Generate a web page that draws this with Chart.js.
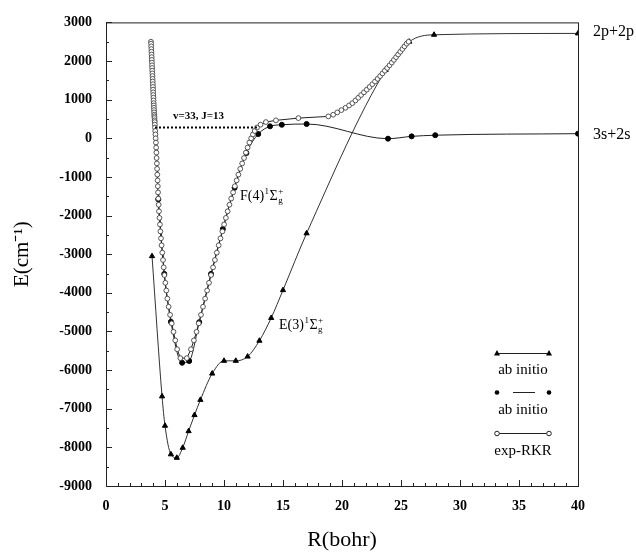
<!DOCTYPE html>
<html>
<head>
<meta charset="utf-8">
<script src="https://cdn.jsdelivr.net/npm/chart.js@4.4.1/dist/chart.umd.min.js"></script>
<style>
  html, body { margin: 0; padding: 0; background: #fff; }
  #wrap { width: 636px; height: 552px; }
</style>
</head>
<body>
<div id="wrap"><canvas id="pec" width="636" height="552"></canvas></div>
<script>
// axis ticks
const xTickValues = [0, 5, 10, 15, 20, 25, 30, 35, 40];
const yTickValues = [-9000, -8000, -7000, -6000, -5000, -4000, -3000, -2000, -1000, 0, 1000, 2000, 3000];

// E(3) 1Sigma_g+ ab initio (triangles)
const e3R = [3.9, 4.75, 5.0, 5.5, 6.0, 6.5, 7.0, 7.5, 8.0, 9.0, 10.0, 11.0, 12.0, 13.0, 14.0, 15.0, 17.0, 23.7, 25.7, 27.8, 40];
const e3E = [-3050, -6680, -7440, -8180, -8270, -8010, -7580, -7165, -6770, -6090, -5760, -5760, -5650, -5240, -4650, -3930, -2460, 1770, 2500, 2680, 2715];

// F(4) 1Sigma_g+ ab initio (filled circles)
const f4R = [4.43, 4.94, 5.5, 6.45, 7.05, 7.9, 8.9, 9.9, 10.9, 11.9, 12.9, 13.9, 14.9, 17.0, 23.9, 25.9, 27.9, 40];
const f4E = [-1580, -3510, -4750, -5810, -5765, -4760, -3510, -2350, -1280, -380, 110, 310, 350, 370, -10, 50, 80, 120];

// exp-RKR turning points: level energies with inner and outer R
const rkrE = [
  -5690, -5460, -5230, -5010, -4790, -4570, -4360, -4150, -3940, -3740,
  -3540, -3340, -3150, -2960, -2770, -2590, -2410, -2230, -2060, -1890,
  -1720, -1560, -1400, -1240, -1090, -940, -790, -650, -510, -370,
  -240, -110, 0, 100, 190, 280, 353, 420, 464, 523,
  567, 610, 670, 730, 790, 850, 910, 980, 1050, 1120,
  1190, 1260, 1330, 1400, 1470, 1540, 1610, 1680, 1750, 1820,
  1890, 1960, 2030, 2100, 2170, 2240, 2310, 2380, 2450, 2500
];
const rkrInnerR = [
  6.3, 6.03, 5.87, 5.72, 5.57, 5.43, 5.31, 5.2, 5.11, 5.03,
  4.95, 4.89, 4.83, 4.77, 4.71, 4.66, 4.61, 4.57, 4.53, 4.49,
  4.46, 4.43, 4.41, 4.39, 4.37, 4.35, 4.33, 4.31, 4.29, 4.27,
  4.25, 4.23, 4.21, 4.19, 4.17, 4.15, 4.14, 4.13, 4.12, 4.11,
  4.1, 4.09, 4.08, 4.07, 4.06, 4.05, 4.04, 4.03, 4.02, 4.01,
  4.0, 3.99, 3.98, 3.97, 3.96, 3.95, 3.94, 3.93, 3.92, 3.91,
  3.9, 3.89, 3.88, 3.87, 3.86, 3.85, 3.84, 3.83, 3.82, 3.81
];
const rkrOuterR = [
  6.85, 7.2, 7.45, 7.67, 7.86, 8.05, 8.22, 8.4, 8.57, 8.73,
  8.9, 9.07, 9.23, 9.39, 9.55, 9.7, 9.86, 10.01, 10.16, 10.31,
  10.46, 10.61, 10.77, 10.92, 11.07, 11.22, 11.38, 11.54, 11.7, 11.86,
  12.0, 12.15, 12.3, 12.45, 12.6, 12.8, 13.1, 13.55, 14.4, 16.3,
  18.84, 19.25, 19.6, 19.95, 20.3, 20.6, 20.88, 21.14, 21.38, 21.62,
  21.86, 22.1, 22.34, 22.57, 22.8, 23.02, 23.23, 23.43, 23.63, 23.83,
  24.03, 24.22, 24.4, 24.58, 24.76, 24.94, 25.12, 25.3, 25.48, 25.65
];

// v=33, J=13 level
const levelR = [4.15, 12.8];
const levelE = [280, 280];

const SERIF = '"Liberation Serif", "Times New Roman", serif';

const toPts = (xs, ys) => xs.map((x, i) => ({ x: x, y: ys[i] }));
const rkrInner = toPts(rkrInnerR, rkrE).reverse();
const rkrOuter = toPts(rkrOuterR, rkrE);

function tri(ctx, x, y, r) {
  ctx.beginPath();
  ctx.moveTo(x, y - r);
  ctx.lineTo(x + r, y + r * 0.8);
  ctx.lineTo(x - r, y + r * 0.8);
  ctx.closePath();
  ctx.fill();
}

function dot(ctx, x, y, r, open) {
  ctx.beginPath();
  ctx.arc(x, y, r, 0, Math.PI * 2);
  if (open) {
    ctx.fillStyle = '#fff';
    ctx.fill();
    ctx.stroke();
    ctx.fillStyle = '#000';
  } else {
    ctx.fill();
  }
}

function drawTerm(ctx, head, x, y) {
  ctx.textAlign = 'left';
  ctx.textBaseline = 'alphabetic';
  ctx.font = '14px ' + SERIF;
  ctx.fillText(head, x, y);
  let cx = x + ctx.measureText(head).width + 0.5;
  ctx.font = '9px ' + SERIF;
  ctx.fillText('1', cx, y - 6);
  cx += ctx.measureText('1').width + 0.5;
  ctx.font = '14px ' + SERIF;
  ctx.fillText('\u03A3', cx, y);
  cx += ctx.measureText('\u03A3').width + 0.5;
  ctx.font = '9px ' + SERIF;
  ctx.fillText('+', cx, y - 6);
  ctx.fillText('g', cx, y + 3);
}

const decor = {
  id: 'decor',
  beforeDatasetsDraw(chart) {
    const { ctx, chartArea: a, scales: { x, y } } = chart;
    ctx.save();
    ctx.strokeStyle = '#222';
    ctx.lineWidth = 1;
    ctx.strokeRect(a.left + 0.5, a.top + 0.5, a.right - a.left, a.bottom - a.top);
    ctx.beginPath();
    for (let v = 0; v <= 40; v++) {
      const px = Math.round(x.getPixelForValue(v)) + 0.5;
      const len = v % 5 === 0 ? 6 : 3;
      ctx.moveTo(px, a.bottom);
      ctx.lineTo(px, a.bottom - len);
    }
    for (let v = -9000; v <= 3000; v += 500) {
      const py = Math.round(y.getPixelForValue(v)) + 0.5;
      const len = v % 1000 === 0 ? 6 : 3;
      ctx.moveTo(a.left, py);
      ctx.lineTo(a.left + len, py);
    }
    ctx.stroke();
    ctx.restore();
  },
  afterDatasetsDraw(chart) {
    const { ctx } = chart;
    ctx.save();
    ctx.fillStyle = '#000';
    ctx.strokeStyle = '#222';

    ctx.font = 'bold 11px ' + SERIF;
    ctx.textAlign = 'left';
    ctx.textBaseline = 'middle';
    ctx.fillText('v=33, J=13', 173, 116);

    drawTerm(ctx, 'F(4)', 240, 200);
    drawTerm(ctx, 'E(3)', 279, 329);

    ctx.font = '16px ' + SERIF;
    ctx.textAlign = 'left';
    ctx.textBaseline = 'middle';
    ctx.fillText('2p+2p', 593, 32);
    ctx.fillText('3s+2s', 593, 135);

    // legend
    ctx.lineWidth = 1;
    ctx.beginPath();
    ctx.moveTo(497, 353.5); ctx.lineTo(549, 353.5);
    ctx.moveTo(513, 392.5); ctx.lineTo(535, 392.5);
    ctx.moveTo(497, 433.5); ctx.lineTo(549, 433.5);
    ctx.stroke();
    tri(ctx, 497, 353, 3);
    tri(ctx, 549, 353, 3);
    dot(ctx, 497, 392.5, 2.3, false);
    dot(ctx, 549, 392.5, 2.3, false);
    dot(ctx, 497, 433.5, 2.3, true);
    dot(ctx, 549, 433.5, 2.3, true);

    ctx.font = '15px ' + SERIF;
    ctx.textAlign = 'center';
    ctx.textBaseline = 'middle';
    ctx.fillText('ab initio', 523, 370);
    ctx.fillText('ab initio', 523, 410);
    ctx.fillText('exp-RKR', 523, 451);
    ctx.restore();
  }
};

new Chart(document.getElementById('pec'), {
  type: 'scatter',
  data: {
    datasets: [
      {
        label: 'v=33, J=13',
        data: toPts(levelR, levelE),
        showLine: true,
        borderColor: '#000',
        borderWidth: 2,
        borderDash: [2, 2],
        pointRadius: 0,
      },
      {
        label: 'exp-RKR',
        data: rkrInner.concat(rkrOuter),
        showLine: true,
        borderColor: '#222',
        borderWidth: 1,
        tension: 0,
        pointStyle: 'circle',
        pointRadius: 2.4,
        pointBorderWidth: 0.9,
        pointBackgroundColor: '#fff',
        pointBorderColor: '#444',
      },
      {
        label: 'F(4) ab initio',
        data: toPts(f4R, f4E),
        showLine: true,
        borderColor: '#222',
        borderWidth: 1,
        cubicInterpolationMode: 'monotone',
        pointStyle: 'circle',
        pointRadius: 2.5,
        pointBackgroundColor: '#000',
        pointBorderColor: '#000',
      },
      {
        label: 'E(3) ab initio',
        data: toPts(e3R, e3E),
        showLine: true,
        borderColor: '#333',
        borderWidth: 1,
        cubicInterpolationMode: 'monotone',
        pointStyle: 'triangle',
        pointRadius: 3,
        pointBackgroundColor: '#000',
        pointBorderColor: '#000',
      },
    ],
  },
  options: {
    responsive: false,
    animation: false,
    devicePixelRatio: 1,
    layout: { padding: { left: 0, right: 58, top: 21, bottom: 0 } },
    plugins: {
      legend: { display: false },
      tooltip: { enabled: false },
    },
    scales: {
      x: {
        type: 'linear',
        min: 0,
        max: 40,
        afterBuildTicks: (s) => { s.ticks = xTickValues.map(v => ({ value: v })); },
        afterFit: (s) => { s.height = 66; },
        grid: { display: false, drawTicks: false },
        border: { display: false },
        ticks: {
          color: '#000',
          padding: 12,
          maxRotation: 0,
          font: { family: SERIF, size: 14, weight: 'bold' },
        },
        title: {
          display: true,
          text: 'R(bohr)',
          color: '#000',
          padding: { top: 0, bottom: 1 },
          font: { family: SERIF, size: 22, lineHeight: 1 },
        },
      },
      y: {
        type: 'linear',
        min: -9000,
        max: 3000,
        afterBuildTicks: (s) => { s.ticks = yTickValues.map(v => ({ value: v })); },
        afterFit: (s) => { s.width = 106; },
        grid: { display: false, drawTicks: false },
        border: { display: false },
        ticks: {
          color: '#000',
          padding: 14,
          font: { family: SERIF, size: 14, weight: 'bold' },
          callback: (v) => String(v),
        },
        title: {
          display: true,
          text: 'E(cm\u207B\u00B9)',
          color: '#000',
          padding: { top: 10, bottom: 0 },
          font: { family: SERIF, size: 21, lineHeight: 1.2 },
        },
      },
    },
  },
  plugins: [decor],
});
</script>
</body>
</html>
